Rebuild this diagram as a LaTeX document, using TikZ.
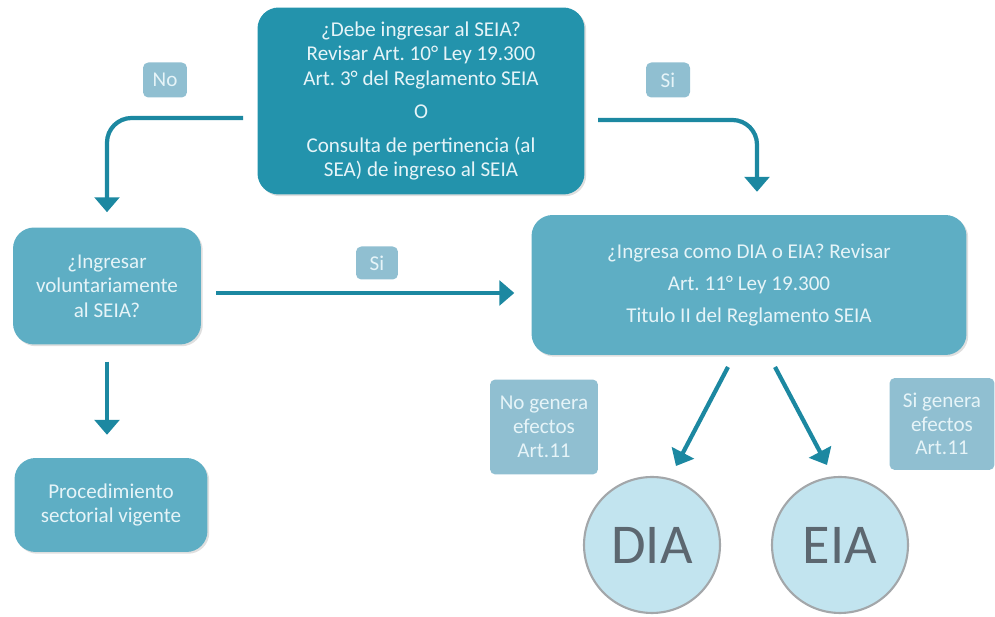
\documentclass[tikz,border=0pt]{standalone}
\usepackage{fontspec}
\setmainfont{Carlito}
\usetikzlibrary{arrows.meta}
\usetikzlibrary{shadows}
\frenchspacing

\definecolor{tealdark}{HTML}{2393AC}
\definecolor{tealmid}{HTML}{5EAEC4}
\definecolor{tealtag}{HTML}{90BFD1}
\definecolor{tealline}{HTML}{1C88A1}
\definecolor{circfill}{HTML}{C2E4EF}
\definecolor{circline}{HTML}{A3A7AA}
\definecolor{circtext}{HTML}{5C6770}
\definecolor{boxtext}{HTML}{E6F4F8}

\tikzset{
  box/.style={rectangle, rounded corners=12pt, text=boxtext, align=center,
    font=\fontsize{12}{14}\selectfont, inner sep=0pt,
    drop shadow={opacity=0.25, shadow xshift=1pt, shadow yshift=-1pt}},
  tag/.style={rectangle, rounded corners=3pt, fill=tealtag, text=boxtext,
    align=center, inner sep=0pt, font=\fontsize{12}{13.5}\selectfont},
  result/.style={circle, fill=circfill, draw=circline, line width=1.2pt,
    minimum size=2.72cm, inner sep=0pt, text=circtext,
    font=\fontsize{32}{32}\selectfont},
  flow/.style={draw=tealline, line width=2.4pt,
    -{Triangle[width=14pt, length=8.5pt]}},
}

\begin{document}
\begin{tikzpicture}[x=0.02cm, y=-0.02cm]
\useasboundingbox (0,0) rectangle (995,617);

% boxes
\node[box, fill=tealdark, minimum width=6.54cm, minimum height=3.74cm] (seia) at (421,101)
  {¿Debe ingresar al SEIA?\\Revisar Art. 10° Ley 19.300\\Art. 3° del Reglamento SEIA\\[5pt]
   O\\[5pt]Consulta de pertinencia (al\\SEA) de ingreso al SEIA};
\node[box, fill=tealmid, minimum width=3.76cm, minimum height=2.34cm] (vol) at (107,286)
  {¿Ingresar\\voluntariamente\\al SEIA?};
\node[box, fill=tealmid, minimum width=8.7cm, minimum height=2.8cm,
  font=\fontsize{12}{18}\selectfont] (tipo) at (749,285)
  {¿Ingresa como DIA o EIA? Revisar\\Art. 11° Ley 19.300\\Titulo II del Reglamento SEIA};
\node[box, fill=tealmid, minimum width=3.86cm, minimum height=1.88cm] (proc) at (111,505)
  {Procedimiento\\sectorial vigente};

% tags
\node[tag, minimum width=0.88cm, minimum height=0.7cm] (no) at (165,80) {No};
\node[tag, minimum width=0.88cm, minimum height=0.7cm] (si) at (668,80) {Si};
\node[tag, minimum width=0.84cm, minimum height=0.66cm] (simid) at (377,263) {Si};
\node[tag, minimum width=2.16cm, minimum height=1.9cm] (nogen) at (544,427)
  {No genera\\efectos\\Art.11};
\node[tag, minimum width=2.1cm, minimum height=1.84cm] (sigen) at (942,424)
  {Si genera\\efectos\\Art.11};

% results
\node[result] (dia) at (652,545) {DIA};
\node[result] (eia) at (840,545) {EIA};

% connectors
\coordinate (noStart) at (243,118);
\coordinate (siStart) at (598,120);
\draw[flow, rounded corners=14pt, shorten >=8.5pt] (noStart) -| (vol.north);
\draw[flow, rounded corners=14pt, shorten >=13pt] (siStart) -| ([xshift=0.16cm]tipo.north);
\draw[flow, shorten <=8.5pt, shorten >=9.6pt] (vol.east |- 0,293) -- (tipo.west |- 0,293);
\draw[flow, shorten <=9.6pt, shorten >=13pt] (vol.south) -- (vol.south |- proc.north);
\coordinate (diaStart) at (728,367);
\coordinate (eiaStart) at (775,367);
\coordinate (diaEnd) at (676,466);
\coordinate (eiaEnd) at (827,465);
\draw[flow] (diaStart) -- (diaEnd);
\draw[flow] (eiaStart) -- (eiaEnd);
\end{tikzpicture}
\end{document}
